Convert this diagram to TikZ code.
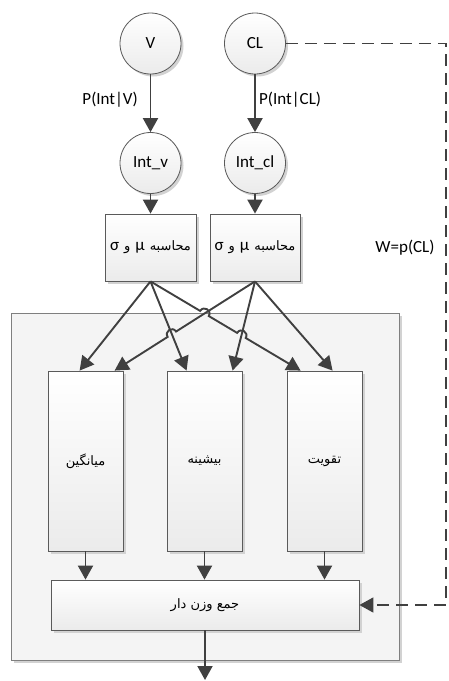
\documentclass[tikz,border=0pt]{standalone}
\usepackage{fontspec}
\setmainfont{Carlito}
\newfontfamily\arabicfont[Script=Arabic]{DejaVu Sans}
\TeXXeTstate=1
\usetikzlibrary{arrows.meta,shadows,calc,intersections}
\definecolor{linec}{HTML}{404040}
\definecolor{bordc}{HTML}{5A5A5A}
\definecolor{fillb}{HTML}{EBEBEB}
\definecolor{contf}{HTML}{F4F4F4}
\definecolor{contb}{HTML}{7F7F7F}
\definecolor{shadc}{HTML}{D2D2D2}
\newcommand\lfs{\fontsize{17}{20}\selectfont}
\newcommand\afs{\arabicfont\fontsize{13}{15}\selectfont}
\tikzset{
 shad/.style={drop shadow={shadow xshift=2.5pt, shadow yshift=-2.5pt, fill=shadc, opacity=1}},
 circ/.style={circle, draw=bordc, line width=0.8pt, minimum size=61pt, inner sep=0pt, top color=white, bottom color=fillb, shad, font=\lfs},
 box/.style={rectangle, draw=bordc, line width=0.8pt, inner sep=0pt, top color=white, bottom color=fillb, shad},
 contbox/.style={rectangle, draw=contb, line width=0.8pt, inner sep=0pt, fill=contf, shad},
 arr/.style={draw=linec, line width=1.9pt, -{Triangle[length=14pt,width=15pt]}},
 dsh/.style={draw=linec, line width=1.6pt, dash pattern=on 12pt off 7pt, -{Triangle[length=14pt,width=15pt]}},
 lbl/.style={font=\lfs, inner sep=0pt},
 jmp/.style={bend left=90, looseness=1.7},
 jmpr/.style={bend right=90, looseness=1.7},
}
\begin{document}
\begin{tikzpicture}[x=1pt,y=-1pt]
\useasboundingbox (0,0) rectangle (449,681);
% container
\node[contbox, minimum width=388pt, minimum height=347pt] (cont) at (205,486.5) {};
% circles
\node[circ] (v) at (150.5,43.5) {V};
\node[circ] (cl) at (255,43.5) {CL};
\node[circ] (iv) at (150.5,163) {Int\_v};
\node[circ] (icl) at (255,163) {Int\_cl};
% computation boxes
\node[box, minimum width=91pt, minimum height=67pt] (mu1) at (150.5,247.5)
  {\beginR{\afs محاسبه}\hspace{5pt}{\lfs μ}\hspace{5pt}{\afs و}\hspace{5pt}{\lfs σ}\endR};
\node[box, minimum width=90pt, minimum height=67pt] (mu2) at (255,247.5)
  {\beginR{\afs محاسبه}\hspace{5pt}{\lfs μ}\hspace{5pt}{\afs و}\hspace{5pt}{\lfs σ}\endR};
% tall boxes
\node[box, minimum width=75pt, minimum height=180pt] (avg) at (85.5,461) {\afs\beginR میانگین\endR};
\node[box, minimum width=75pt, minimum height=180pt] (mx) at (204.5,461) {\afs\beginR بیشینه\endR};
\node[box, minimum width=75pt, minimum height=180pt] (rein) at (324.5,461) {\afs\beginR تقویت\endR};
% weighted sum
\node[box, minimum width=308pt, minimum height=50pt] (sum) at (205,605) {\afs\beginR جمع وزن دار\endR};
% labels
\node[lbl, anchor=east] (pv) at (138,100) {P(Int|V)};
\node[lbl, anchor=west] (pcl) at (259,100) {P(Int|CL)};
\node[lbl] (w) at (405,248) {W=p(CL)};
% vertical arrows
\draw[arr] (v) -- (iv);
\draw[arr] (cl) -- (icl);
\draw[arr] (iv) -- (mu1);
\draw[arr] (icl) -- (mu2);
% crossing arrows
\coordinate (A) at (mu1.south);
\coordinate (B) at (mu2.south);
\coordinate (T1) at ($(avg.north west)+(32,0)$);
\coordinate (T2) at ($(mx.north west)+(20,0)$);
\coordinate (T3) at ($(rein.north west)+(14,0)$);
\coordinate (U1) at ($(avg.north west)+(67,0)$);
\coordinate (U2) at ($(mx.north west)+(66,0)$);
\coordinate (U3) at ($(rein.north west)+(46,0)$);
\path[name path=l2] (A) -- (T2);
\path[name path=l3] (A) -- (T3);
\path[name path=r1] (B) -- (U1);
\path[name path=r2] (B) -- (U2);
\path[name intersections={of=l3 and r1, by=x1}];
\path[name intersections={of=l2 and r1, by=x2}];
\path[name intersections={of=l3 and r2, by=x3}];
\draw[arr] (A) -- (T1);
\draw[arr] (A) -- (T2);
\draw[arr] (A) -- ($(x1)!5pt!(A)$) to[jmp] ($(x1)!5pt!(T3)$) -- ($(x3)!5pt!(A)$) to[jmp] ($(x3)!5pt!(T3)$) -- (T3);
\draw[arr] (B) -- ($(x2)!5pt!(B)$) to[jmpr] ($(x2)!5pt!(U1)$) -- (U1);
\draw[arr] (B) -- (U2);
\draw[arr] (B) -- (U3);
% to sum
\draw[arr] (avg.south) -- (avg.south |- sum.north);
\draw[arr] (mx.south) -- (mx.south |- sum.north);
\draw[arr] (rein.south) -- (rein.south |- sum.north);
\coordinate (out) at (205,680);
\draw[arr] (sum.south) -- (out);
% dashed weight line
\coordinate (c1) at (446,43.5);
\coordinate (c2) at (446,605);
\draw[dsh] (cl.east) -- (c1) -- (c2) -- (sum.east);
\end{tikzpicture}
\end{document}
